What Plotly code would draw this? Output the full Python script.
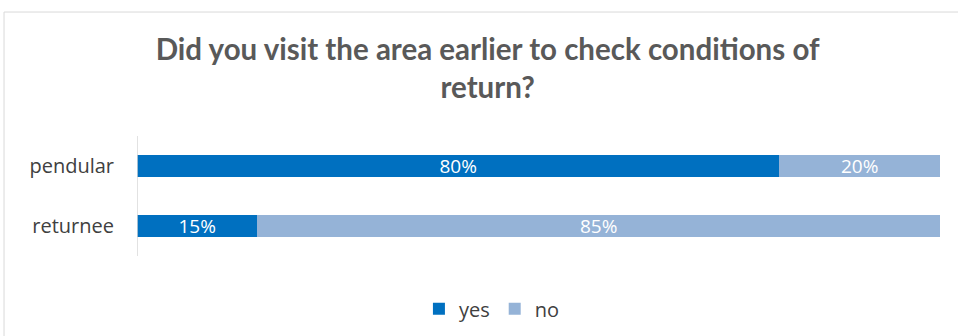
import plotly.graph_objects as go

categories = ["pendular", "returnee"]
yes_values = [80, 15]
no_values = [20, 85]

YES_COLOR = "#0070C0"
NO_COLOR = "#95B3D7"
LABEL_FONT = "Open Sans"

fig = go.Figure()
fig.add_trace(go.Bar(
    name="yes", y=categories, x=yes_values, orientation="h",
    marker=dict(color=YES_COLOR, line=dict(width=0)),
    text=[f"{v}%" for v in yes_values], textposition="inside",
    insidetextanchor="middle", constraintext="none",
    textfont=dict(color="white", size=19, family=LABEL_FONT),
))
fig.add_trace(go.Bar(
    name="no", y=categories, x=no_values, orientation="h",
    marker=dict(color=NO_COLOR, line=dict(width=0)),
    text=[f"{v}%" for v in no_values], textposition="inside",
    insidetextanchor="middle", constraintext="none",
    textfont=dict(color="white", size=19, family=LABEL_FONT),
))

fig.update_layout(
    barmode="stack",
    bargap=0.633,
    width=958, height=336,
    margin=dict(l=137, r=18, t=136, b=80, autoexpand=False),
    paper_bgcolor="white", plot_bgcolor="white",
    title=dict(
        text="<b>Did you visit the area earlier to check conditions of<br>return?</b>",
        x=0.509, xanchor="center", y=0.822, yanchor="middle",
        font=dict(family="Lato", size=29.5, color="#595959"),
    ),
    xaxis=dict(range=[0, 100], visible=False, fixedrange=True),
    yaxis=dict(
        autorange="reversed", showgrid=False, zeroline=False,
        showline=False, ticks="", ticklabelstandoff=22,
        tickfont=dict(family=LABEL_FONT, size=20, color="#404040"),
    ),
    showlegend=True,
    legend=dict(
        orientation="h", x=0.442, xanchor="center", y=-0.44, yanchor="middle",
        font=dict(family=LABEL_FONT, size=20, color="#404040"),
        itemwidth=30, traceorder="normal",
    ),
    shapes=[
        # category axis line
        dict(type="line", xref="x", yref="paper", x0=0, x1=0, y0=0, y1=1,
             line=dict(color="#d9d9d9", width=1.5)),
        # chart frame
        dict(type="rect", xref="paper", yref="paper",
             x0=-0.1656, x1=1.05, y0=-1, y1=2.033,
             line=dict(color="#d9d9d9", width=1), layer="below"),
    ],
)

fig.write_html("out.html")
